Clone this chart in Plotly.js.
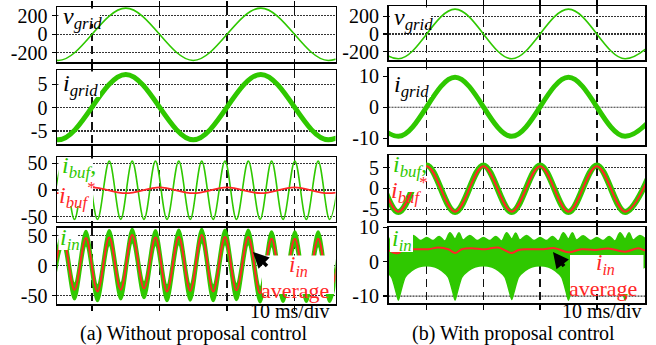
<!DOCTYPE html>
<html><head><meta charset="utf-8">
<script src="https://cdn.plot.ly/plotly-3.0.1.min.js"></script>
<style>html,body{margin:0;padding:0;background:#fff}#chart{width:656px;height:345px}</style>
</head><body><div id="chart"></div>
<script>
// ---------------- data (time in ms) ----------------
// Row 1: grid voltage, extremes
const vgridT = [-15, -5, 5, 15, 25, 35, 45];
const vgridA = [283, -283, 283, -283, 283, -283, 283];
const vgridB = [280, -278, 280, -278, 280, -278, 280];
// Row 2: grid current, extremes
const igridT = [-15, -5, 5, 15, 25, 35, 45];
const igridA = [7.1, -6.9, 7.1, -6.9, 7.1, -6.9, 7.1];
const igridB = [9.7, -9.4, 9.7, -9.4, 9.7, -9.4, 9.7];
// Row 3 (a): buffer current and its reference
const ibufAT = [-6.0, -4.3, -2.6, -0.9, 0.8, 2.55, 4.25, 5.95, 7.7, 9.4, 11.1, 12.85, 14.55, 16.25, 17.95, 19.7, 21.4, 23.15, 24.9, 26.6, 28.3, 30.05, 31.75, 33.5, 35.2, 36.95];
const ibufA  = [-55, 54, -55, 54, -55, 54, -55, 54, -55, 54, -55, 54, -55, 54, -55, 54, -55, 54, -55, 54, -55, 54, -55, 54, -55, 54];
const ibufRefAT = [-10, -5, 0, 5, 10, 15, 20, 25, 30, 35, 40];
const ibufRefA  = [5, -6, 5, -6, 5, -6, 5, -6, 5, -6, 5];
// Row 3 (b)
const ibufBT = [-15, -10, -5, 0, 5, 10, 15, 20, 25, 30, 35, 40];
const ibufB  = [-5.7, 5.5, -5.7, 5.5, -5.7, 5.5, -5.7, 5.5, -5.7, 5.5, -5.7, 5.5];
const ibufRefB = [-5.6, 5.3, -5.6, 5.3, -5.6, 5.3, -5.6, 5.3, -5.6, 5.3, -5.6, 5.3];
// Row 4 (a): input current band and average
const iinAT   = [-6.0, -4.3, -2.6, -0.9, 0.8, 2.55, 4.25, 5.95, 7.7, 9.4, 11.1, 12.85, 14.55, 16.25, 17.95, 19.7, 21.4, 23.15, 24.9, 26.6, 28.3, 30.05, 31.75, 33.5, 35.2, 36.95];
const iinAavg = [-42, 45, -40, 46, -43, 47, -40, 51, -38, 47, -43, 48, -42, 51, -43, 48, -41, 48, -46, 45, -44, 45, -44, 45, -44, 45];
const iinAup  = [-32, 57, -30, 58, -33, 59, -30, 61, -28, 59, -33, 60, -32, 61, -33, 60, -31, 60, -36, 57, -34, 57, -34, 57, -34, 57];
const iinAlo  = [-58, 33, -56, 34, -59, 35, -56, 39, -54, 35, -59, 36, -58, 39, -59, 36, -57, 36, -61, 33, -60, 33, -60, 33, -60, 33];
// Row 4 (b)
const iinBloT = [-8.5, -7.35, -6.2, -5.4, -5, -4.6, -3.8, -2.65, -1.5, 0, 1.5, 2.65, 3.8, 4.6, 5, 5.4, 6.2, 7.35, 8.5, 10, 11.5, 12.65, 13.8, 14.6, 15, 15.4, 16.2, 17.35, 18.5, 20, 21.5, 22.65, 23.8, 24.6, 25, 25.4, 26.2, 27.35, 28.5, 30, 31.5, 32.65, 33.8, 34.6, 35, 35.4, 36.2, 37.35, 38.5, 40];
const iinBlo  = [-1.6, -2.6, -4.5, -8.8, -11.2, -8.8, -4.5, -2.6, -1.6, -1.2, -1.6, -2.6, -4.5, -8.8, -11.2, -8.8, -4.5, -2.6, -1.6, -1.2, -1.6, -2.6, -4.5, -8.8, -11.0, -8.8, -4.5, -2.6, -1.6, -1.2, -1.6, -2.6, -4.5, -8.8, -11.2, -8.8, -4.5, -2.6, -1.6, -1.2, -1.6, -2.6, -4.5, -8.8, -11.2, -8.8, -4.5, -2.6, -1.6, -1.2];
const iinBupT = [-7.8, -6.8, -5.9, -5.0, -4.3, -3.6, -2.4, -1.1, 0.0, 1.1, 2.2, 3.2, 4.1, 5.0, 5.7, 6.4, 7.6, 8.9, 10.0, 11.1, 12.2, 13.2, 14.1, 15.0, 15.7, 16.4, 17.6, 18.9, 20.0, 21.1, 22.2, 23.2, 24.1, 25.0, 25.7, 26.4, 27.6, 28.9, 30.0, 31.1, 32.2, 33.2, 34.1, 35.0, 35.7, 36.4, 37.6, 38.9];
const iinBup  = [7.3, 6.0, 8.4, 6.6, 8.4, 6.3, 7.6, 6.1, 7.0, 6.1, 7.3, 6.0, 8.4, 6.6, 8.4, 6.3, 7.6, 6.1, 7.0, 6.1, 7.3, 6.0, 8.4, 6.6, 8.3, 6.3, 7.6, 6.1, 7.0, 6.1, 7.3, 6.0, 8.4, 6.6, 8.4, 6.3, 7.5, 6.1, 7.0, 6.1, 7.3, 6.0, 8.4, 6.6, 8.4, 6.3, 7.6, 6.1];
const iinBavgT = [-7, -6.6, -5.6, -5.0, -4.1, -2.1, 0.3, 2.0, 3.8, 5.0, 6.2, 7.9, 10.3, 12.6, 15.0, 16.2, 17.9, 20.3, 22.6, 25.0, 27.3, 29.7, 32.0, 35.0, 37.3, 38.2, 39];
const iinBavg  = [3.2, 3.2, 2.5, 2.5, 3.4, 3.6, 3.6, 4.1, 3.6, 2.5, 3.6, 3.9, 3.6, 4.1, 2.5, 3.4, 3.6, 3.6, 3.9, 2.7, 3.6, 3.4, 3.8, 2.9, 3.9, 3.4, 3.3];
// Tick values / labels
const divTicks = [0, 10, 20, 30];
const vTicks = [-200, 0, 200], vText = ['-200', '0', '200'];
const i5Ticks = [-5, 0, 5], i5Text = ['-5', '0', '5'];
const i10Ticks = [-10, 0, 10], i10Text = ['-10', '0', '10'];
const i50Ticks = [-50, 0, 50], i50Text = ['-50', '0', '50'];

// ---------------- styling ----------------
const W = 656, H = 345;
const GREEN = '#2fc800', RED = '#ff2626';
const FONT = '"Liberation Serif", "Times New Roman", Times, serif';
const px = v => v / W, py = v => 1 - v / H;

const traces = [];
function line(x, y, ax, color, width, extra) {
  traces.push(Object.assign({type: 'scatter', mode: 'lines', x: x, y: y, xaxis: 'x' + ax, yaxis: 'y' + ax,
    line: {color: color, width: width, shape: 'spline', smoothing: 1}, hoverinfo: 'skip', showlegend: false}, extra || {}));
}
line(vgridT, vgridA, '', GREEN, 1.6);
line(igridT, igridA, '2', GREEN, 5);
line(ibufAT, ibufA, '3', GREEN, 1.6);
line(ibufRefAT, ibufRefA, '3', RED, 1.8);
line(iinAT, iinAlo, '4', GREEN, 2.5);
line(iinAT, iinAup, '4', GREEN, 2.5, {fill: 'tonexty', fillcolor: GREEN});
line(iinAT, iinAavg, '4', RED, 2);
line(vgridT, vgridB, '5', GREEN, 1.6);
line(igridT, igridB, '6', GREEN, 5);
line(ibufBT, ibufB, '7', GREEN, 6);
line(ibufBT, ibufRefB, '7', RED, 2);
line(iinBloT, iinBlo, '8', GREEN, 1.5, {line: {color: GREEN, width: 1.5, shape: 'spline', smoothing: 0.6}});
line(iinBupT, iinBup, '8', GREEN, 1.5, {fill: 'tonexty', fillcolor: GREEN});
line(iinBavgT, iinBavg, '8', RED, 2);

const layout = {
  width: W, height: H, margin: {l: 0, r: 0, t: 0, b: 0},
  paper_bgcolor: '#fff', plot_bgcolor: 'rgba(0,0,0,0)', showlegend: false,
  font: {family: FONT, color: '#000'}
};
const colX = [[57 / W, 335.5 / W], [388.5 / W, 645 / W]];
const colR = [[-5.19, 36.07], [-6.74, 38.5]];
const rowsPx = [[[7, 62], [70, 144.3], [157, 221.7], [227.7, 304]],
                [[6, 60], [68.3, 145], [155, 221], [227, 303]]];
const yRanges = [[[-300, 295], [-7.85, 8.05], [-59.4, 61.8], [-63.8, 63.3]],
                 [[-292, 315], [-12.2, 12.6], [-7.84, 8.0], [-12, 10.05]]];
const yTicks = [[[vTicks, vText], [i5Ticks, i5Text], [i50Ticks, i50Text], [i50Ticks, i50Text]],
                [[vTicks, vText], [i10Ticks, i10Text], [i5Ticks, i5Text], [i10Ticks, i10Text]]];
const yGrid = [[true, true, true, true], [true, false, true, false]];
for (let c = 0; c < 2; c++) {
  for (let r = 0; r < 4; r++) {
    const n = c * 4 + r + 1;
    const key = n === 1 ? '' : String(n);
    const rp = rowsPx[c][r];
    layout['xaxis' + key] = {
      domain: colX[c], range: colR[c], anchor: 'y' + key, tickvals: divTicks, showticklabels: false,
      ticks: 'outside', ticklen: 5, tickwidth: 1.5, tickcolor: '#000',
      showline: true, linecolor: '#000', linewidth: 1.5, mirror: 'allticks',
      showgrid: true, gridcolor: '#111', gridwidth: 1.4, griddash: '8px,5px', zeroline: false, fixedrange: true
    };
    layout['yaxis' + key] = {
      domain: [1 - rp[1] / H, 1 - rp[0] / H], range: yRanges[c][r], anchor: 'x' + key,
      tickvals: yTicks[c][r][0], ticktext: yTicks[c][r][1],
      ticks: 'outside', ticklen: 4, tickwidth: 1.3, tickcolor: '#000',
      showline: true, linecolor: '#000', linewidth: 1.5, mirror: true,
      showgrid: yGrid[c][r], gridcolor: '#333', gridwidth: 1.1, griddash: '2px,1px', zeroline: false,
      tickfont: {family: FONT, size: 20, color: '#000'}, fixedrange: true
    };
  }
}

const shapes = [];
function hgrid(ax, yv) {
  shapes.push({type: 'line', xref: 'x' + ax + ' domain', x0: 0, x1: 1, yref: 'y' + ax, y0: yv, y1: yv,
    line: {color: '#333', width: 1.1, dash: '2px,1px'}, layer: 'below'});
}
hgrid('6', 0); hgrid('8', 0); hgrid('8', -10);
function wbox(x0, y0, x1, y1) {
  shapes.push({type: 'rect', xref: 'paper', yref: 'paper', x0: px(x0), x1: px(x1), y0: py(y1), y1: py(y0),
    fillcolor: '#fff', line: {width: 0}, layer: 'above'});
}
wbox(58.5, 8.5, 100, 24); wbox(390, 7.5, 431, 25);
wbox(58.5, 71.5, 100, 97); wbox(390, 69.5, 431, 97);
wbox(58.5, 158.5, 93, 206); wbox(390, 156.5, 426, 192);
wbox(58.5, 229, 78, 250); wbox(390, 228.5, 413, 252);
wbox(262, 255.5, 334, 294); wbox(570, 255, 643.5, 294);
layout.shapes = shapes;

const ann = [];
function lab(text, x, y, color, size, xanchor) {
  ann.push({text: text, xref: 'paper', yref: 'paper', x: px(x), y: py(y), xanchor: xanchor || 'left', yanchor: 'middle',
    showarrow: false, font: {family: FONT, size: size, color: color}});
}
lab('<i>v</i><sub><i>grid</i></sub>', 61, 18, '#000', 24);
lab('<i>v</i><sub><i>grid</i></sub>', 392, 19, '#000', 24);
lab('<i>i</i><sub><i>grid</i></sub>', 61, 85, '#000', 24);
lab('<i>i</i><sub><i>grid</i></sub>', 392, 86, '#000', 24);
lab('<i>i</i><sub><i>buf</i></sub>,', 60, 167, GREEN, 24);
lab('<i>i</i><sub><i>buf</i></sub><sup>*</sup>', 57, 195, RED, 24);
lab('<i>i</i><sub><i>buf</i></sub>,', 391, 166, GREEN, 24);
lab('<i>i</i><sub><i>buf</i></sub><sup>*</sup>', 389, 190, RED, 24);
lab('<i>i</i><sub><i>in</i></sub>', 58, 239, GREEN, 24);
lab('<i>i</i><sub><i>in</i></sub>', 390, 240, GREEN, 24);
lab('<i>i</i><sub><i>in</i></sub>', 298, 266, RED, 23, 'center');
lab('average', 295, 290, RED, 22, 'center');
lab('<i>i</i><sub><i>in</i></sub>', 605, 264, RED, 23, 'center');
lab('average', 603, 288, RED, 22, 'center');
lab('10 ms/div', 289, 311, '#000', 20, 'center');
lab('10 ms/div', 601, 311, '#000', 20, 'center');
lab('(a) Without proposal control', 194, 333, '#000', 20, 'center');
lab('(b) With proposal control', 513, 333, '#000', 20, 'center');
function arrow(x, y, axp, ayp) {
  ann.push({text: ' ', xref: 'paper', yref: 'paper', x: px(x), y: py(y), ax: axp, ay: ayp,
    showarrow: true, arrowhead: 2, arrowsize: 0.9, arrowwidth: 3.5, arrowcolor: '#000', standoff: 0});
}
arrow(253, 252, 17, 17);
arrow(553, 252, 14, 18);
layout.annotations = ann;

Plotly.newPlot('chart', traces, layout, {staticPlot: true, displayModeBar: false});
</script>
</body></html>
